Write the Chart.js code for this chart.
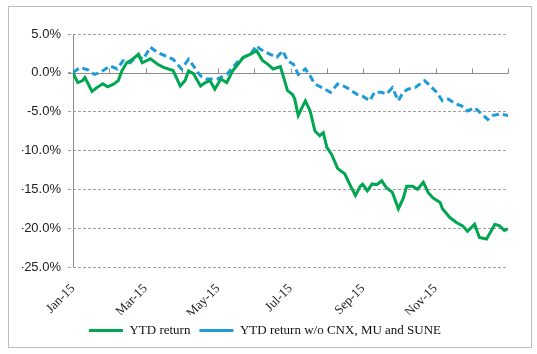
<!DOCTYPE html>
<html>
<head>
<meta charset="utf-8">
<script src="https://cdn.jsdelivr.net/npm/chart.js@4"></script>
<style>
  body { margin: 0; background: #fff; }
  #wrap { position: relative; width: 537px; height: 354px; }
  #frame { position: absolute; left: 8px; top: 6px; width: 524px; height: 342px; box-sizing: border-box; border: 1px solid #bdbdbd; pointer-events: none; }
</style>
</head>
<body>
<div id="wrap">
  <canvas id="ytdChart" width="537" height="354"></canvas>
  <div id="frame"></div>
</div>
<script>
// month tick labels (only every other month is labelled)
const monthLabels = ['Jan-15', '', 'Mar-15', '', 'May-15', '', 'Jul-15', '', 'Sep-15', '', 'Nov-15', '', ''];

// YTD return, day of year / percent
const ytdDays = [0, 4, 8, 10, 16, 20, 25, 29, 34, 38, 41, 45, 50, 55, 58, 65, 71, 76, 84, 90, 94, 97, 101, 107, 111, 115, 119, 124, 129, 134, 143, 149, 154, 159, 163, 168, 174, 176, 180, 184, 186, 189, 192, 195, 199, 203, 207, 210, 213, 217, 222, 228, 232, 237, 241, 243, 247, 251, 255, 259, 263, 268, 273, 277, 280, 285, 289, 294, 298, 302, 308, 310, 316, 322, 327, 331, 337, 341, 347, 350, 354, 358, 362, 365];
const ytdVals = [0.0, -1.25, -1.0, -0.6, -2.4, -1.9, -1.4, -1.8, -1.45, -1.0, 0.25, 1.3, 1.75, 2.4, 1.3, 1.8, 1.1, 0.7, 0.3, -1.7, -1.0, 0.25, -0.1, -1.7, -1.25, -1.0, -2.1, -0.8, -1.25, 0.25, 2.0, 2.4, 2.85, 1.6, 1.15, 0.5, 0.8, -0.2, -2.3, -2.75, -3.35, -5.5, -4.5, -3.6, -4.9, -7.5, -8.1, -7.7, -9.6, -10.5, -12.3, -13.0, -14.3, -15.8, -14.6, -14.35, -15.2, -14.3, -14.4, -13.9, -14.8, -15.4, -17.5, -16.2, -14.6, -14.6, -15.0, -14.1, -15.4, -16.1, -16.7, -17.5, -18.6, -19.3, -19.7, -20.4, -19.5, -21.2, -21.4, -20.6, -19.5, -19.7, -20.3, -20.1];

// YTD return w/o CNX, MU and SUNE
const exDays = [0, 6, 13, 18, 23, 31, 37, 42, 48, 54, 59, 65, 71, 77, 84, 91, 97, 101, 107, 112, 121, 129, 134, 140, 149, 154, 157, 165, 171, 176, 180, 185, 189, 195, 199, 203, 209, 216, 222, 227, 232, 238, 243, 249, 253, 259, 263, 268, 273, 277, 281, 287, 291, 295, 300, 305, 310, 315, 321, 326, 331, 337, 343, 348, 352, 358, 365];
const exVals = [0.05, 0.7, 0.35, -0.2, 0.05, 0.9, 0.5, 1.55, 1.3, 2.2, 1.75, 3.3, 2.6, 2.2, 1.75, 0.5, 1.75, 0.9, -0.4, -0.8, -0.8, -0.2, 0.7, 1.75, 2.4, 3.5, 3.05, 2.4, 2.0, 2.85, 1.55, 1.1, -0.2, 0.5, -0.4, -1.45, -1.9, -2.5, -1.45, -1.7, -2.1, -2.75, -3.0, -3.6, -2.5, -2.5, -2.75, -1.9, -3.6, -2.5, -2.1, -1.9, -1.45, -1.0, -1.7, -2.5, -3.6, -3.4, -4.0, -4.25, -4.9, -4.5, -5.3, -6.0, -5.5, -5.3, -5.5];

const GREEN = '#00a651';
const BLUE = '#1e9bd7';
const AXIS = '#8c8c8c';

// solid y axis line, plus solid 0% line with monthly tick marks pointing up
const axisLines = {
    id: 'axisLines',
    beforeDatasetsDraw(chart) {
        const x = chart.scales.x, y = chart.scales.y;
        const y0 = Math.round(y.getPixelForValue(0)) + 0.5;
        const xl = Math.round(x.left) + 0.5;
        const c = chart.ctx;
        c.save();
        c.strokeStyle = AXIS;
        c.lineWidth = 1;
        c.setLineDash([]);
        c.beginPath();
        c.moveTo(xl, y.top);
        c.lineTo(xl, y.bottom);
        c.moveTo(x.left - 5, y0);
        c.lineTo(x.right, y0);
        x.ticks.forEach(t => {
            const px = Math.round(x.getPixelForValue(t.value)) + 0.5;
            c.moveTo(px, y0);
            c.lineTo(px, y0 - 5);
        });
        c.stroke();
        c.restore();
    }
};

new Chart(document.getElementById('ytdChart'), {
    type: 'line',
    data: {
        datasets: [
            {
                label: 'YTD return',
                data: ytdDays.map((d, i) => ({ x: d, y: ytdVals[i] })),
                borderColor: GREEN,
                backgroundColor: GREEN,
                borderWidth: 3,
                pointRadius: 0,
                tension: 0
            },
            {
                label: 'YTD return w/o CNX, MU and SUNE',
                data: exDays.map((d, i) => ({ x: d, y: exVals[i] })),
                borderColor: BLUE,
                backgroundColor: BLUE,
                borderWidth: 3,
                borderDash: [7, 4],
                pointRadius: 0,
                tension: 0
            }
        ]
    },
    options: {
        responsive: false,
        animation: false,
        layout: { padding: { left: 22, right: 29, top: 34, bottom: 7 } },
        scales: {
            x: {
                type: 'linear',
                min: 0,
                max: 365,
                afterBuildTicks: scale => {
                    scale.ticks = monthLabels.map((l, i) => ({ value: i * 365 / 12 }));
                },
                afterFit: scale => { scale.height = 48; },
                grid: { display: false },
                border: { display: false },
                ticks: {
                    autoSkip: false,
                    minRotation: 45,
                    maxRotation: 45,
                    padding: 6,
                    color: '#222',
                    font: { family: 'Liberation Serif', size: 13 },
                    callback: (v, i) => monthLabels[i]
                }
            },
            y: {
                min: -25,
                max: 5,
                afterFit: scale => { scale.width = 51; },
                grid: {
                    color: ctx => ctx.tick && ctx.tick.value === 0 ? 'rgba(0,0,0,0)' : '#a0a0a0',
                    borderDash: [3, 2],
                    tickColor: '#a0a0a0',
                    tickBorderDash: [3, 2],
                    tickLength: 5
                },
                border: { display: false, dash: [3, 2] },
                ticks: {
                    stepSize: 5,
                    padding: 7,
                    color: '#222',
                    font: { family: 'Liberation Sans', size: 13 },
                    callback: v => v.toFixed(1) + '%'
                }
            }
        },
        plugins: {
            legend: {
                position: 'bottom',
                labels: {
                    usePointStyle: true,
                    pointStyle: 'line',
                    pointStyleWidth: 34,
                    boxWidth: 34,
                    padding: 9,
                    color: '#111',
                    font: { family: 'Liberation Serif', size: 13 }
                }
            },
            tooltip: { enabled: false }
        }
    },
    plugins: [axisLines]
});
</script>
</body>
</html>
